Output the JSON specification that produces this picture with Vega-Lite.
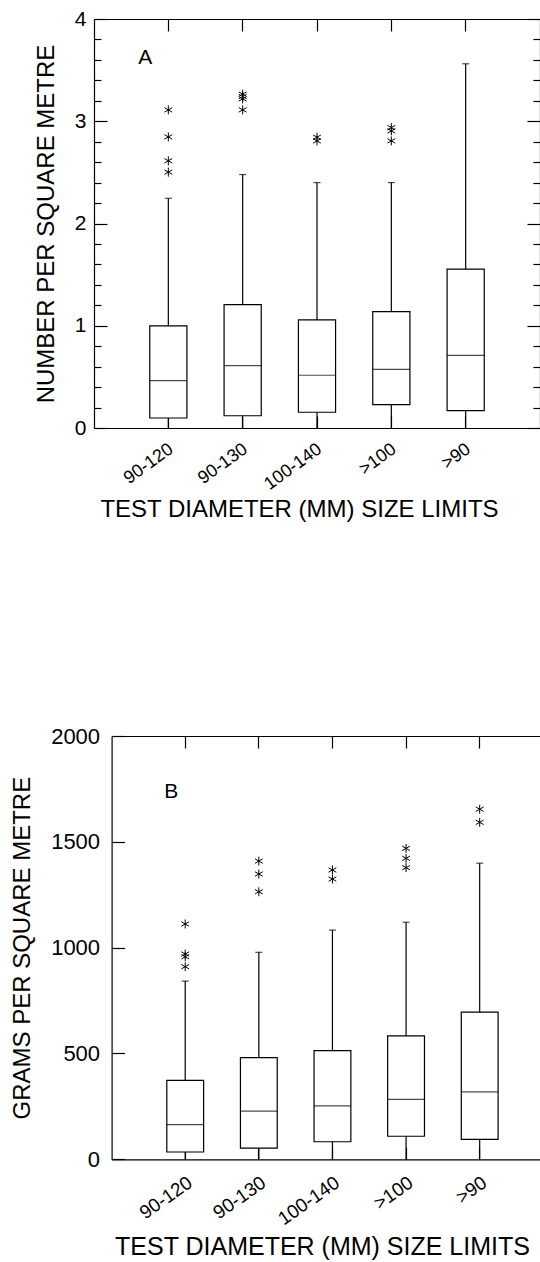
{
  "$schema": "https://vega.github.io/schema/vega-lite/v6.json",
  "padding": {"left": 10, "top": 8, "right": 0, "bottom": 0},
  "background": "white",
  "spacing": 203,
  "datasets": {
    "statsA": [
      {"cat": "90-120", "lo": 0, "q1": 0.098, "med": 0.463, "q3": 0.998, "hi": 2.247},
      {"cat": "90-130", "lo": 0, "q1": 0.12, "med": 0.61, "q3": 1.206, "hi": 2.479},
      {"cat": "100-140", "lo": 0, "q1": 0.154, "med": 0.516, "q3": 1.057, "hi": 2.4},
      {"cat": ">100", "lo": 0, "q1": 0.228, "med": 0.574, "q3": 1.138, "hi": 2.4},
      {"cat": ">90", "lo": 0, "q1": 0.169, "med": 0.711, "q3": 1.553, "hi": 3.562}
    ],
    "outA": [
      {"cat": "90-120", "v": 3.111}, {"cat": "90-120", "v": 2.847}, {"cat": "90-120", "v": 2.613}, {"cat": "90-120", "v": 2.502},
      {"cat": "90-130", "v": 3.265}, {"cat": "90-130", "v": 3.242}, {"cat": "90-130", "v": 3.219}, {"cat": "90-130", "v": 3.111},
      {"cat": "100-140", "v": 2.844}, {"cat": "100-140", "v": 2.808},
      {"cat": ">100", "v": 2.938}, {"cat": ">100", "v": 2.906}, {"cat": ">100", "v": 2.808}
    ],
    "statsB": [
      {"cat": "90-120", "lo": 0, "q1": 34.5, "med": 163.5, "q3": 373, "hi": 842},
      {"cat": "90-130", "lo": 0, "q1": 53, "med": 228, "q3": 480, "hi": 978},
      {"cat": "100-140", "lo": 0, "q1": 83, "med": 252, "q3": 513, "hi": 1083},
      {"cat": ">100", "lo": 0, "q1": 109, "med": 283, "q3": 583, "hi": 1120},
      {"cat": ">90", "lo": 0, "q1": 94.5, "med": 319, "q3": 695, "hi": 1399}
    ],
    "outB": [
      {"cat": "90-120", "v": 1112}, {"cat": "90-120", "v": 970}, {"cat": "90-120", "v": 957}, {"cat": "90-120", "v": 910},
      {"cat": "90-130", "v": 1409}, {"cat": "90-130", "v": 1348}, {"cat": "90-130", "v": 1264},
      {"cat": "100-140", "v": 1367}, {"cat": "100-140", "v": 1324},
      {"cat": ">100", "v": 1469}, {"cat": ">100", "v": 1422}, {"cat": ">100", "v": 1378},
      {"cat": ">90", "v": 1654}, {"cat": ">90", "v": 1592}
    ]
  },
  "vconcat": [
    {
      "width": 446,
      "height": 409,
      "resolve": {"axis": {"x": "independent", "y": "independent"}},
      "layer": [
        {
          "data": {"name": "statsA"},
          "mark": {"type": "rule", "color": "black", "strokeWidth": 1.2},
          "encoding": {
            "x": {"field": "cat", "type": "nominal", "sort": null,
              "scale": {"domain": ["90-120", "90-130", "100-140", ">100", ">90"], "paddingInner": 0.5, "paddingOuter": 0.75},
              "axis": {"orient": "bottom", "title": "TEST DIAMETER (MM) SIZE LIMITS", "titleFontSize": 24, "titleX": 205, "titlePadding": 4,
                "labelAngle": -36, "labelFontSize": 18, "labelAlign": "right", "labelBaseline": "middle", "labelOffset": 3, "tickSize": -12, "labelPadding": 31, "labelOverlap": false}},
            "y": {"field": "lo", "type": "quantitative",
              "scale": {"domain": [0, 4], "nice": false},
              "axis": {"orient": "left", "title": "NUMBER PER SQUARE METRE", "titleFontSize": 24, "titlePadding": 16,
                "values": [0, 0.2, 0.4, 0.6, 0.8, 1, 1.2, 1.4, 1.6, 1.8, 2, 2.2, 2.4, 2.6, 2.8, 3, 3.2, 3.4, 3.6, 3.8, 4],
                "labelExpr": "datum.value % 1 === 0 ? '' + datum.value : ''",
                "tickSize": {"condition": {"test": "datum.value % 1 === 0", "value": -13}, "value": -7},
                "labelPadding": 21, "labelFontSize": 21, "labelOverlap": false, "labelFlush": false}},
            "y2": {"field": "hi"}
          }
        },
        {
          "data": {"name": "statsA"},
          "mark": {"type": "bar", "fill": "white", "stroke": "black", "strokeWidth": 1.2},
          "encoding": {
            "x": {"field": "cat", "type": "nominal", "sort": null,
              "axis": {"orient": "top", "labels": false, "title": null, "tickSize": -12}},
            "y": {"field": "q1", "type": "quantitative",
              "axis": {"orient": "right", "labels": false, "title": null,
                "values": [0, 0.2, 0.4, 0.6, 0.8, 1, 1.2, 1.4, 1.6, 1.8, 2, 2.2, 2.4, 2.6, 2.8, 3, 3.2, 3.4, 3.6, 3.8, 4],
                "tickSize": {"condition": {"test": "datum.value % 1 === 0", "value": -13}, "value": -7}}},
            "y2": {"field": "q3"}
          }
        },
        {
          "data": {"name": "statsA"},
          "mark": {"type": "tick", "color": "black", "thickness": 1.2, "size": 37},
          "encoding": {
            "x": {"field": "cat", "type": "nominal", "sort": null, "axis": null},
            "y": {"field": "med", "type": "quantitative", "axis": null}
          }
        },
        {
          "data": {"name": "statsA"},
          "mark": {"type": "tick", "color": "black", "thickness": 1.2, "size": 7},
          "encoding": {
            "x": {"field": "cat", "type": "nominal", "sort": null, "axis": null},
            "y": {"field": "hi", "type": "quantitative", "axis": null}
          }
        },
        {
          "data": {"name": "outA"},
          "mark": {"type": "point", "shape": "M0,-1L0,1M-0.87,-0.5L0.87,0.5M-0.87,0.5L0.87,-0.5", "size": 80, "filled": false, "color": "black", "strokeWidth": 1, "opacity": 1},
          "encoding": {
            "x": {"field": "cat", "type": "nominal", "sort": null, "axis": null},
            "y": {"field": "v", "type": "quantitative", "axis": null}
          }
        },
        {
          "data": {"values": [{"label": "A", "cat": "90-120", "v": 3.617}]},
          "mark": {"type": "text", "fontSize": 21, "dx": -23, "color": "black", "align": "center", "baseline": "middle"},
          "encoding": {
            "x": {"field": "cat", "type": "nominal", "sort": null, "axis": null},
            "y": {"field": "v", "type": "quantitative", "axis": null},
            "text": {"field": "label"}
          }
        }
      ]
    },
    {
      "width": 459.3,
      "height": 423.3,
      "resolve": {"axis": {"x": "independent", "y": "independent"}},
      "layer": [
        {
          "data": {"name": "statsB"},
          "mark": {"type": "rule", "color": "black", "strokeWidth": 1.2},
          "encoding": {
            "x": {"field": "cat", "type": "nominal", "sort": null,
              "scale": {"domain": ["90-120", "90-130", "100-140", ">100", ">90"], "paddingInner": 0.5, "paddingOuter": 0.75, "range": [17.6, 459.3]},
              "axis": {"orient": "bottom", "title": "TEST DIAMETER (MM) SIZE LIMITS", "titleFontSize": 25, "titleX": 228, "titlePadding": 6,
                "labelAngle": -35, "labelFontSize": 19, "labelAlign": "right", "labelBaseline": "middle", "labelOffset": 5, "tickSize": -12, "labelPadding": 33, "labelOverlap": false}},
            "y": {"field": "lo", "type": "quantitative",
              "scale": {"domain": [0, 2000], "nice": false},
              "axis": {"orient": "left", "offset": -17.6, "title": "GRAMS PER SQUARE METRE", "titleFontSize": 24, "titlePadding": 16,
                "values": [0, 500, 1000, 1500, 2000],
                "labelExpr": "'' + datum.value",
                "tickSize": -13, "labelPadding": 25, "labelFontSize": 22, "labelOverlap": false, "labelFlush": false}},
            "y2": {"field": "hi"}
          }
        },
        {
          "data": {"name": "statsB"},
          "mark": {"type": "bar", "fill": "white", "stroke": "black", "strokeWidth": 1.2},
          "encoding": {
            "x": {"field": "cat", "type": "nominal", "sort": null,
              "axis": {"orient": "top", "labels": false, "title": null, "tickSize": -12}},
            "y": {"field": "q1", "type": "quantitative",
              "axis": {"orient": "right", "labels": false, "title": null, "values": [0, 500, 1000, 1500, 2000], "tickSize": -13}},
            "y2": {"field": "q3"}
          }
        },
        {
          "data": {"name": "statsB"},
          "mark": {"type": "tick", "color": "black", "thickness": 1.2, "size": 37},
          "encoding": {
            "x": {"field": "cat", "type": "nominal", "sort": null, "axis": null},
            "y": {"field": "med", "type": "quantitative", "axis": null}
          }
        },
        {
          "data": {"name": "statsB"},
          "mark": {"type": "tick", "color": "black", "thickness": 1.2, "size": 7},
          "encoding": {
            "x": {"field": "cat", "type": "nominal", "sort": null, "axis": null},
            "y": {"field": "hi", "type": "quantitative", "axis": null}
          }
        },
        {
          "data": {"name": "outB"},
          "mark": {"type": "point", "shape": "M0,-1L0,1M-0.87,-0.5L0.87,0.5M-0.87,0.5L0.87,-0.5", "size": 80, "filled": false, "color": "black", "strokeWidth": 1, "opacity": 1},
          "encoding": {
            "x": {"field": "cat", "type": "nominal", "sort": null, "axis": null},
            "y": {"field": "v", "type": "quantitative", "axis": null}
          }
        },
        {
          "data": {"values": [{"label": "B", "cat": "90-120", "v": 1737}]},
          "mark": {"type": "text", "fontSize": 21, "dx": -14, "color": "black", "align": "center", "baseline": "middle"},
          "encoding": {
            "x": {"field": "cat", "type": "nominal", "sort": null, "axis": null},
            "y": {"field": "v", "type": "quantitative", "axis": null},
            "text": {"field": "label"}
          }
        }
      ]
    }
  ],
  "config": {
    "font": "Liberation Sans",
    "view": {"stroke": null},
    "axis": {
      "domainColor": "black", "domainWidth": 1.2, "tickColor": "black", "tickWidth": 1.2,
      "labelColor": "black", "titleColor": "black", "titleFontWeight": "normal", "grid": false,
      "labelFont": "Liberation Sans", "titleFont": "Liberation Sans"
    }
  }
}
